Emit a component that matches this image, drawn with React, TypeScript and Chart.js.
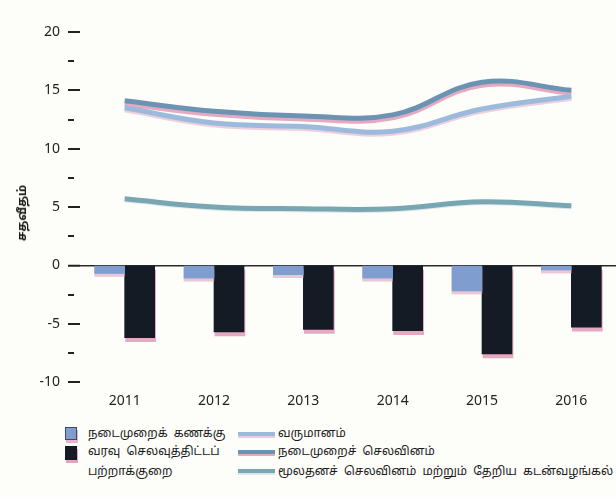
import React, { useEffect, useRef } from "react";
import { Chart, registerables } from "chart.js";
Chart.register(...registerables);

const years = ["2011", "2012", "2013", "2014", "2015", "2016"];
const currentAccount = [-0.7, -1.1, -0.8, -1.1, -2.2, -0.4];
const budgetDeficit = [-6.2, -5.7, -5.5, -5.6, -7.6, -5.3];
const revenue = [13.5, 12.2, 11.9, 11.5, 13.4, 14.5];
const currentExpenditure = [14.1, 13.2, 12.8, 12.9, 15.7, 15.0];
const capitalExpenditure = [5.7, 5.0, 4.85, 4.85, 5.45, 5.1];
const yTickLabels = ["-10", "-5", "0", "5", "10", "15", "20"];

const labelBar1 = "நடைமுறைக் கணக்கு";
const labelBar2a = "வரவு செலவுத்திட்டப்";
const labelBar2b = "பற்றாக்குறை";
const labelLine1 = "வருமானம்";
const labelLine2 = "நடைமுறைச் செலவினம்";
const labelLine3 = "மூலதனச் செலவினம் மற்றும் தேறிய கடன்வழங்கல்";
const yTitle = "சதவீதம்";

const C_BAR1 = "#7f9ecf";
const C_BAR2 = "#141b24";
const C_REV = "#9cbadb";
const C_CUR = "#6b93b2";
const C_CAP = "#78a6b3";
const PINK = "rgba(222,140,175,0.75)";

const CANVAS_H = 420;
const FONT = "'Noto Sans', 'DejaVu Sans', sans-serif";
const TFONT = "'Noto Sans Tamil', 'Lohit Tamil', 'Noto Sans', sans-serif";

const shadowPlugin = {
  id: "printShadow",
  beforeDatasetDraw(chart: any, args: any) {
    const ds: any = chart.data.datasets[args.index];
    const ctx = chart.ctx;
    ctx.save();
    if (ds.shadowColor) {
      ctx.shadowColor = ds.shadowColor;
      ctx.shadowOffsetX = ds.shadowX || 0;
      ctx.shadowOffsetY = ds.shadowY || 0;
      ctx.shadowBlur = ds.shadowBlur || 0;
    }
  },
  afterDatasetDraw(chart: any) {
    chart.ctx.restore();
  },
};

export default function App() {
  const ref = useRef<HTMLCanvasElement | null>(null);

  useEffect(() => {
    if (!ref.current) return;
    const chart = new Chart(ref.current, {
      type: "bar",
      data: {
        labels: years,
        datasets: [
          {
            type: "line",
            label: labelLine3,
            data: capitalExpenditure,
            borderColor: C_CAP,
            borderWidth: 5,
            pointRadius: 0,
            tension: 0.4,
            shadowColor: "rgba(200,215,225,0.6)",
            shadowY: 1,
          } as any,
          {
            type: "line",
            label: labelLine1,
            data: revenue,
            borderColor: C_REV,
            borderWidth: 5,
            pointRadius: 0,
            tension: 0.4,
            shadowColor: "rgba(225,170,200,0.55)",
            shadowY: 2,
          } as any,
          {
            type: "line",
            label: labelLine2,
            data: currentExpenditure,
            borderColor: C_CUR,
            borderWidth: 5,
            pointRadius: 0,
            tension: 0.4,
            shadowColor: PINK,
            shadowY: 3,
          } as any,
          {
            type: "bar",
            label: labelBar1,
            data: currentAccount,
            backgroundColor: C_BAR1,
            barThickness: 30,
            shadowColor: "rgba(225,160,190,0.6)",
            shadowY: 3,
          } as any,
          {
            type: "bar",
            label: labelBar2a + " " + labelBar2b,
            data: budgetDeficit,
            backgroundColor: C_BAR2,
            barThickness: 30,
            shadowColor: PINK,
            shadowY: 4,
            shadowX: 1,
          } as any,
        ],
      },
      options: {
        animation: false,
        responsive: false,
        maintainAspectRatio: false,
        layout: { padding: { top: 32, left: 0, right: 0, bottom: 0 } },
        plugins: { legend: { display: false }, tooltip: { enabled: false } },
        scales: {
          x: {
            offset: true,
            grid: { display: false, drawTicks: false },
            border: { display: false },
            ticks: { color: "#222", font: { family: FONT, size: 14 }, padding: 11 },
            afterFit: (s: any) => {
              s.height = CANVAS_H - 382;
            },
          },
          y: {
            min: -10,
            max: 20,
            border: { display: false },
            grid: {
              drawOnChartArea: true,
              color: (c: any) => (c.tick && c.tick.value === 0 ? "#2a2a2a" : "rgba(0,0,0,0)"),
              lineWidth: (c: any) => (c.tick && c.tick.value === 0 ? 1.5 : 0),
              tickColor: "#222",
              tickWidth: 2,
              tickLength: 12,
              tickBorderDash: (c: any) => (c.tick && c.tick.value % 5 === 0 ? [] : [6, 30]),
            },
            ticks: {
              stepSize: 2.5,
              padding: 8,
              color: "#222",
              font: { family: FONT, size: 14 },
              callback: (v: any) => (yTickLabels.includes(String(v)) ? String(v) : ""),
            },
            afterFit: (s: any) => {
              s.width = 80;
            },
          },
        },
      },
      plugins: [shadowPlugin],
    } as any);
    return () => chart.destroy();
  }, []);

  const txt: React.CSSProperties = {
    position: "absolute",
    fontFamily: TFONT,
    fontSize: 12,
    wordSpacing: 3,
    lineHeight: "18px",
    color: "#1a1a1a",
    whiteSpace: "nowrap",
  };
  const lineSw = (color: string, top: number, shadow: string): React.CSSProperties => ({
    position: "absolute",
    left: 238,
    top: top - 2,
    width: 37,
    height: 4,
    background: color,
    boxShadow: `0 2px 0 ${shadow}`,
  });

  return (
    <div
      style={{
        position: "fixed",
        left: 0,
        top: 0,
        width: 616,
        height: 497,
        background: "#fdfdf9",
        overflow: "hidden",
      }}
    >
      <canvas ref={ref} width={616} height={CANVAS_H} style={{ position: "absolute", left: 0, top: 0 }} />
      <div
        style={{
          position: "absolute",
          left: 23,
          top: 213,
          transform: "translate(-50%, -50%) rotate(-90deg)",
          fontFamily: TFONT,
          fontSize: 12,
          fontWeight: "bold",
          color: "#1a1a1a",
          whiteSpace: "nowrap",
        }}
      >
        {yTitle}
      </div>
      <div
        style={{
          position: "absolute",
          left: 65,
          top: 427,
          width: 12,
          height: 13,
          background: C_BAR1,
          border: "1px solid #3a4a6a",
          boxSizing: "border-box",
          boxShadow: "1px 3px 0 rgba(222,150,180,0.7)",
        }}
      />
      <div
        style={{
          position: "absolute",
          left: 65,
          top: 446,
          width: 12,
          height: 14,
          background: C_BAR2,
          boxShadow: "1px 3px 0 rgba(222,140,175,0.8)",
        }}
      />
      <div style={{ ...txt, left: 88, top: 434 - 9 }}>{labelBar1}</div>
      <div style={{ ...txt, left: 88, top: 452 - 9 }}>{labelBar2a}</div>
      <div style={{ ...txt, left: 88, top: 472 - 9 }}>{labelBar2b}</div>
      <div style={lineSw(C_REV, 434, "rgba(225,170,200,0.6)")} />
      <div style={lineSw(C_CUR, 452, PINK)} />
      <div style={lineSw(C_CAP, 471, "rgba(200,215,225,0.6)")} />
      <div style={{ ...txt, left: 278, top: 434 - 9 }}>{labelLine1}</div>
      <div style={{ ...txt, left: 278, top: 452 - 9 }}>{labelLine2}</div>
      <div style={{ ...txt, left: 278, top: 472 - 9 }}>{labelLine3}</div>
    </div>
  );
}
